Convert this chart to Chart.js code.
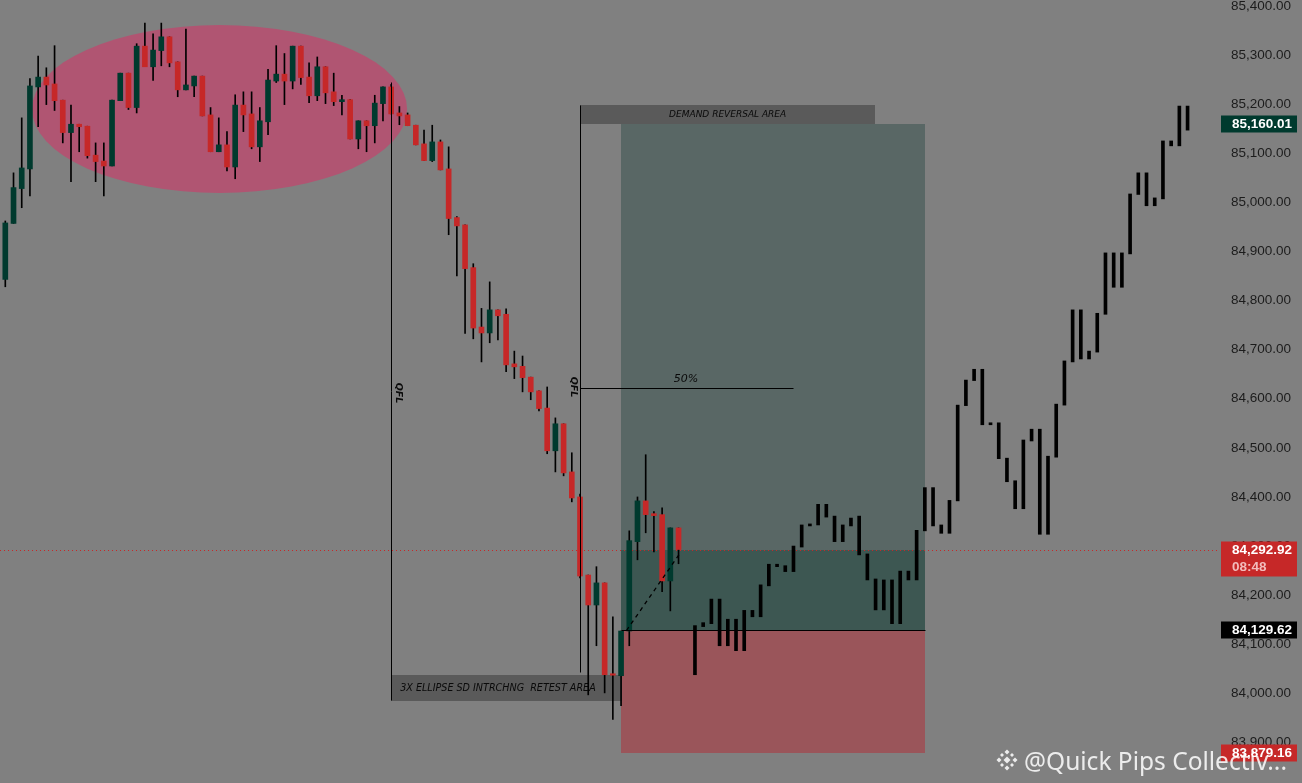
<!DOCTYPE html>
<html lang="en">

<head>
    <meta charset="UTF-8">
    <title>BTC demand reversal</title>
    <script src="https://cdn.jsdelivr.net/npm/chart.js"></script>
    <style>
        body { margin: 0; background: #808080; overflow: hidden; }
        canvas { display: block; }
    </style>
</head>

<body>
    <canvas id="myChart" width="1302" height="783"></canvas>

    <script>
        // candles (index 0..82)
        const opens = [84843, 84957, 85028, 85068, 85235, 85255, 85241, 85208, 85142, 85159,
            85155, 85096, 85084, 85074, 85207, 85263, 85193, 85318, 85276, 85309,
            85337, 85286, 85229, 85237, 85257, 85178, 85103, 85117, 85072, 85198,
            85180, 85113, 85164, 85247, 85261, 85247, 85318, 85255, 85217, 85276,
            85225, 85205, 85209, 85129, 85166, 85156, 85201, 85235, 85182, 85178,
            85157, 85119, 85085, 85123, 85068, 84969, 84954, 84867, 84746, 84734,
            84781, 84772, 84671, 84666, 84644, 84616, 84581, 84494, 84549, 84451,
            84400, 84241, 84180, 84225, 84040, 84036, 84127, 84309, 84392, 84366,
            84364, 84229, 84337];
        const closes = [84958, 85030, 85070, 85237, 85255, 85239, 85207, 85142, 85159, 85154,
            85095, 85083, 85074, 85208, 85263, 85193, 85318, 85276, 85310, 85337,
            85284, 85229, 85239, 85257, 85176, 85103, 85117, 85072, 85198, 85178,
            85113, 85166, 85249, 85261, 85247, 85318, 85254, 85217, 85276, 85223,
            85205, 85209, 85129, 85166, 85156, 85202, 85235, 85180, 85176, 85156,
            85117, 85085, 85123, 85066, 84967, 84952, 84865, 84744, 84734, 84781,
            84769, 84669, 84665, 84643, 84614, 84580, 84494, 84549, 84449, 84398,
            84239, 84180, 84225, 84038, 84037, 84127, 84311, 84392, 84364, 84362,
            84229, 84337, 84293];
        const highs = [84962, 85060, 85172, 85252, 85298, 85274, 85319, 85208, 85198, 85159,
            85155, 85121, 85121, 85208, 85263, 85263, 85323, 85365, 85343, 85365,
            85337, 85286, 85353, 85257, 85257, 85193, 85172, 85144, 85219, 85225,
            85225, 85193, 85271, 85319, 85303, 85318, 85318, 85284, 85296, 85276,
            85263, 85218, 85209, 85166, 85166, 85218, 85235, 85240, 85195, 85182,
            85157, 85147, 85157, 85127, 85113, 84971, 84954, 84875, 84784, 84838,
            84781, 84783, 84697, 84687, 84644, 84616, 84624, 84561, 84549, 84490,
            84406, 84241, 84258, 84225, 84156, 84127, 84331, 84400, 84486, 84370,
            84378, 84337, 84337];
        const lows = [84828, 84957, 84989, 85013, 85154, 85199, 85187, 85121, 85042, 85103,
            85090, 85042, 85013, 85074, 85207, 85189, 85182, 85276, 85248, 85278,
            85276, 85215, 85229, 85215, 85176, 85103, 85103, 85064, 85048, 85144,
            85109, 85083, 85138, 85244, 85199, 85231, 85240, 85203, 85207, 85201,
            85197, 85178, 85129, 85109, 85103, 85121, 85166, 85180, 85158, 85156,
            85117, 85085, 85083, 85066, 84934, 84850, 84733, 84722, 84675, 84714,
            84720, 84655, 84641, 84614, 84598, 84575, 84488, 84451, 84443, 84390,
            84235, 83997, 84097, 84001, 83947, 83975, 84097, 84272, 84327, 84288,
            84207, 84168, 84264];

        // projected path (black bars), starts at index 84
        const projStart = 84;
        const projHighs = [84138, 84144, 84192, 84192, 84151, 84151, 84169, 84169, 84221, 84263,
            84263, 84260, 84300, 84343, 84345, 84385, 84385, 84361, 84343, 84357,
            84361, 84284, 84233, 84231, 84231, 84249, 84249, 84332, 84419, 84419,
            84343, 84393, 84587, 84638, 84660, 84660, 84551, 84551, 84479, 84433,
            84516, 84538, 84538, 84483, 84589, 84677, 84781, 84781, 84697, 84774,
            84897, 84897, 84897, 85017, 85060, 85060, 85009, 85125, 85125, 85196,
            85196];
        const projLows = [84038, 84136, 84142, 84097, 84097, 84087, 84087, 84156, 84156, 84219,
            84258, 84248, 84248, 84298, 84341, 84343, 84359, 84309, 84309, 84341,
            84282, 84231, 84170, 84170, 84142, 84142, 84231, 84231, 84331, 84341,
            84326, 84326, 84392, 84586, 84637, 84547, 84547, 84478, 84431, 84376,
            84376, 84514, 84324, 84324, 84481, 84587, 84675, 84681, 84681, 84695,
            84772, 84827, 84827, 84895, 85016, 84993, 84993, 85007, 85115, 85115,
            85147];

        const priceTicks = [83900, 84000, 84100, 84200, 84300, 84400, 84500, 84600, 84700,
            84800, 84900, 85000, 85100, 85200, 85300, 85400];

        // position tool levels
        const targetPrice = 85160.01;
        const entryPrice = 84129.62;
        const stopPrice = 83879.16;
        const lastPrice = 84292.92;
        const countdown = '08:48';
        const halfLevel = 84622;

        const GREEN = '#003a2e';
        const RED = '#c62828';

        const fmt = v => v.toLocaleString('en-US', { minimumFractionDigits: 2, maximumFractionDigits: 2 });

        const wickData = highs.map((h, i) => ({ x: i, y: [lows[i], h] }));
        const bodyData = opens.map((o, i) => ({ x: i, y: [o, closes[i]] }));
        const projData = projHighs.map((h, i) => ({ x: projStart + i, y: [projLows[i], h] }));

        function rectP(ctx, xs, ys, i1, i2, p1, p2, color) {
            const x1 = Math.round(xs.getPixelForValue(i1)), x2 = Math.round(xs.getPixelForValue(i2));
            const y1 = Math.round(ys.getPixelForValue(p1)), y2 = Math.round(ys.getPixelForValue(p2));
            ctx.fillStyle = color;
            ctx.fillRect(x1, Math.min(y1, y2), x2 - x1, Math.abs(y2 - y1));
        }

        // crisp 1px lines
        function lineP(ctx, xs, ys, i1, p1, i2, p2) {
            const snap = v => Math.round(v) + 0.5;
            ctx.beginPath();
            ctx.moveTo(snap(xs.getPixelForValue(i1)), snap(ys.getPixelForValue(p1)));
            ctx.lineTo(snap(xs.getPixelForValue(i2)), snap(ys.getPixelForValue(p2)));
            ctx.stroke();
        }

        const drawings = {
            id: 'drawings',
            beforeDraw(chart) {
                const ctx = chart.ctx;
                ctx.save();
                ctx.fillStyle = '#808080';
                ctx.fillRect(0, 0, chart.width, chart.height);
                ctx.restore();
            },
            beforeDatasetsDraw(chart) {
                const ctx = chart.ctx, xs = chart.scales.x, ys = chart.scales.y;
                ctx.save();

                // ellipse round the top
                const ex1 = xs.getPixelForValue(3.25), ex2 = xs.getPixelForValue(48.94);
                const ey1 = ys.getPixelForValue(85361), ey2 = ys.getPixelForValue(85019);
                ctx.fillStyle = '#b05572';
                ctx.beginPath();
                ctx.ellipse((ex1 + ex2) / 2, (ey1 + ey2) / 2, (ex2 - ex1) / 2, (ey2 - ey1) / 2, 0, 0, Math.PI * 2);
                ctx.fill();

                // long position zones
                rectP(ctx, xs, ys, 75.0, 112.05, targetPrice, lastPrice, '#596765');
                rectP(ctx, xs, ys, 75.0, 112.05, lastPrice, entryPrice, '#3d5752');
                rectP(ctx, xs, ys, 75.0, 112.05, entryPrice, stopPrice, '#9a555a');

                // labelled boxes
                rectP(ctx, xs, ys, 70.02, 105.95, 85198, targetPrice, '#5a5a5a');
                rectP(ctx, xs, ys, 46.99, 75.1, 84037, 83984, '#5a5a5a');

                ctx.fillStyle = '#0a0a0a';
                ctx.textBaseline = 'middle';
                ctx.font = 'italic 9px "DejaVu Sans"';
                ctx.textAlign = 'center';
                ctx.fillText('DEMAND REVERSAL AREA', xs.getPixelForValue(87.98), ys.getPixelForValue(85179));
                ctx.textAlign = 'left';
                ctx.font = 'italic 9.6px "DejaVu Sans"';
                ctx.fillText('3X ELLIPSE SD INTRCHNG  RETEST AREA', xs.getPixelForValue(48.1), ys.getPixelForValue(84010));

                // current price line
                ctx.strokeStyle = RED;
                ctx.lineWidth = 1;
                ctx.setLineDash([1, 3]);
                const ly = Math.round(ys.getPixelForValue(lastPrice)) + 0.5;
                ctx.beginPath();
                ctx.moveTo(0, ly);
                ctx.lineTo(chart.chartArea.right, ly);
                ctx.stroke();
                ctx.restore();
            },
            afterDatasetsDraw(chart) {
                const ctx = chart.ctx, xs = chart.scales.x, ys = chart.scales.y;
                ctx.save();
                ctx.strokeStyle = '#000';
                ctx.lineWidth = 1;

                // QFL verticals, entry and 50% lines
                lineP(ctx, xs, ys, 46.99, 85245, 46.99, 83986);
                lineP(ctx, xs, ys, 70.02, 85198, 70.02, 84043);
                lineP(ctx, xs, ys, 70.02, halfLevel, 95.97, halfLevel);
                lineP(ctx, xs, ys, 75.0, entryPrice, 112.05, entryPrice);

                ctx.setLineDash([4, 4]);
                ctx.lineWidth = 1.3;
                lineP(ctx, xs, ys, 75.6, entryPrice, 82.2, 84288);
                ctx.setLineDash([]);

                ctx.fillStyle = '#0a0a0a';
                ctx.font = 'italic 11px "DejaVu Sans"';
                ctx.textAlign = 'center';
                ctx.textBaseline = 'middle';
                ctx.fillText('50%', xs.getPixelForValue(82.9), ys.getPixelForValue(halfLevel) - 9);

                ctx.font = 'bold italic 9.5px "DejaVu Sans"';
                [[xs.getPixelForValue(46.99) + 7, 393], [xs.getPixelForValue(70.02) - 7, 387]].forEach(([x, y]) => {
                    ctx.save();
                    ctx.translate(x, y);
                    ctx.rotate(Math.PI / 2);
                    ctx.fillText('QFL', 0, 0);
                    ctx.restore();
                });
                ctx.restore();
            },
            afterDraw(chart) {
                const ctx = chart.ctx, ys = chart.scales.y;
                ctx.save();
                const tx = 1221, tw = 76;
                ctx.font = 'bold 13.5px "Liberation Sans"';
                ctx.textBaseline = 'middle';
                ctx.textAlign = 'left';

                function tag(price, bg, h) {
                    const y = Math.round(ys.getPixelForValue(price));
                    ctx.fillStyle = bg;
                    ctx.fillRect(tx, y - 8.5, tw, h);
                    ctx.fillStyle = '#fff';
                    ctx.fillText(fmt(price), 1232, y + 0.5);
                    return y;
                }
                tag(targetPrice, GREEN, 17);
                tag(entryPrice, '#000', 17);
                tag(stopPrice, RED, 17);
                const cy = tag(lastPrice, RED, 35);
                ctx.fillStyle = '#f2bcbc';
                ctx.fillText(countdown, 1232, cy + 17);

                // watermark
                ctx.fillStyle = 'rgba(255,255,255,0.85)';
                ctx.font = '24.5px "Noto Sans"';
                ctx.textBaseline = 'alphabetic';
                ctx.fillText('@Quick Pips Collectiv...', 1024, 770);
                const cx = 1007, cyy = 760;
                [[0, 0, 3.5], [-8, 0, 2.5], [8, 0, 2.5], [0, -8, 2.5], [0, 8, 2.5], [-5, 5, 2], [5, 5, 2], [-5, -5, 2], [5, -5, 2]].forEach(([dx, dy, s]) => {
                    ctx.beginPath();
                    ctx.moveTo(cx + dx, cyy + dy - s);
                    ctx.lineTo(cx + dx + s, cyy + dy);
                    ctx.lineTo(cx + dx, cyy + dy + s);
                    ctx.lineTo(cx + dx - s, cyy + dy);
                    ctx.closePath();
                    ctx.fill();
                });
                ctx.restore();
            }
        };

        const ctx = document.getElementById('myChart').getContext('2d');
        const myChart = new Chart(ctx, {
            type: 'bar',
            data: {
                datasets: [{
                    label: 'bodies',
                    data: bodyData,
                    backgroundColor: c => closes[c.dataIndex] >= opens[c.dataIndex] ? GREEN : RED,
                    barThickness: 5,
                    minBarLength: 1,
                    grouped: false,
                    order: 1
                }, {
                    label: 'wicks',
                    data: wickData,
                    backgroundColor: '#000',
                    barThickness: 1,
                    grouped: false,
                    order: 2
                }, {
                    label: 'projection',
                    data: projData,
                    backgroundColor: '#000',
                    barThickness: 3,
                    minBarLength: 2,
                    grouped: false,
                    order: 1
                }]
            },
            options: {
                responsive: false,
                devicePixelRatio: 1,
                animation: false,
                layout: { padding: 0 },
                plugins: { legend: { display: false }, tooltip: { enabled: false } },
                scales: {
                    x: {
                        type: 'linear',
                        min: -0.646,
                        max: 147.95,
                        offset: false,
                        display: false
                    },
                    y: {
                        position: 'right',
                        min: 83817.5,
                        max: 85412,
                        grid: { display: false, drawTicks: false },
                        border: { display: false },
                        ticks: {
                            padding: 11,
                            crossAlign: 'near',
                            color: '#1c1c1c',
                            font: { family: 'Liberation Sans', size: 13.5 },
                            callback: v => fmt(v)
                        },
                        afterBuildTicks: s => { s.ticks = priceTicks.map(v => ({ value: v })); },
                        afterFit: s => { s.width = 82; s.paddingTop = 0; s.paddingBottom = 0; }
                    }
                }
            },
            plugins: [drawings]
        });
    </script>
</body>

</html>
